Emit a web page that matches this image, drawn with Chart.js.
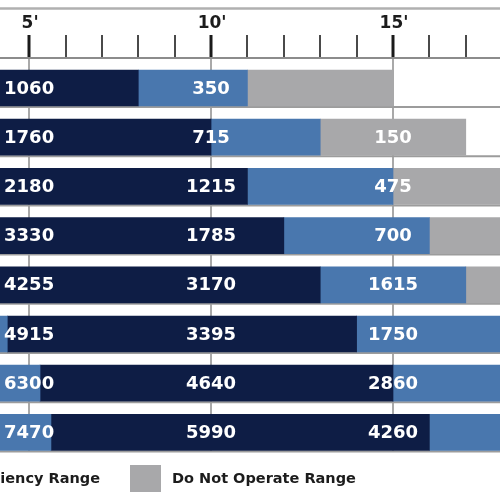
<!DOCTYPE html>
<html>
<head>
<meta charset="utf-8">
<script src="https://cdn.jsdelivr.net/npm/chart.js@4/dist/chart.umd.min.js"></script>
<style>
  html, body { margin: 0; padding: 0; background: #fff; }
  #chart { display: block; }
</style>
</head>
<body>
<canvas id="chart" width="500" height="500"></canvas>
<script>
// head height ruler (feet)
const rulerFeet = [5, 6, 7, 8, 9, 10, 11, 12, 13, 14, 15, 16, 17];
const headFeet = [5, 10, 15];
const headLabels = ["5'", "10'", "15'"];

// one row per pump
const pumps = ["Pump 1", "Pump 2", "Pump 3", "Pump 4", "Pump 5", "Pump 6", "Pump 7", "Pump 8"];

// flow (GPH) printed at 5', 10', 15'
const flowAt5 = [1060, 1760, 2180, 3330, 4255, 4915, 6300, 7470];
const flowAt10 = [350, 715, 1215, 1785, 3170, 3395, 4640, 5990];
const flowAt15 = [null, 150, 475, 700, 1615, 1750, 2860, 4260];

// range break points in feet
const leadEnd = [null, null, null, null, null, 4.4, 5.3, 5.6];
const maxEffStart = [0, 0, 0, 0, 0, 4.4, 5.3, 5.6];
const maxEffEnd = [8, 10, 11, 12, 13, 14, 15, 16];
const effEnd = [11, 13, 15, 16, 17, 20, 20, 20];
const stopEnd = [15, 17, 20, 20, 20, null, null, null];

const navy = '#0e1d45';
const blue = '#4977ae';
const grey = '#a8a8aa';

const leadRange = leadEnd.map(v => v === null ? null : [0, v]);
const maxEffRange = maxEffStart.map((s, i) => [s, maxEffEnd[i]]);
const effRange = maxEffEnd.map((s, i) => [s, effEnd[i]]);
const stopRange = stopEnd.map((v, i) => v === null ? null : [effEnd[i], v]);

const ruler = {
  id: 'ruler',
  beforeDraw(chart) {
    const ctx = chart.ctx;
    ctx.save();
    ctx.fillStyle = '#fff';
    ctx.fillRect(0, 0, chart.width, chart.height);
    ctx.restore();
  },
  beforeDatasetsDraw(chart) {
    const { ctx, scales: { x, y } } = chart;
    ctx.save();
    // vertical lines at 5', 10', 15'
    ctx.strokeStyle = '#a9a9a9';
    ctx.lineWidth = 2;
    headFeet.forEach(f => {
      const px = Math.round(x.getPixelForValue(f));
      ctx.beginPath();
      ctx.moveTo(px, 58);
      ctx.lineTo(px, 452);
      ctx.stroke();
    });
    // thin line under each bar
    ctx.strokeStyle = '#9c9c9c';
    pumps.forEach((_, i) => {
      const py = y.getPixelForValue(i) + 19;
      ctx.beginPath();
      ctx.moveTo(0, py);
      ctx.lineTo(chart.width, py);
      ctx.stroke();
    });
    ctx.restore();
  },
  afterDatasetsDraw(chart) {
    const { ctx, scales: { x, y } } = chart;
    ctx.save();
    ctx.fillStyle = '#fff';
    ctx.font = 'bold 18px "DejaVu Sans"';
    ctx.textAlign = 'center';
    ctx.textBaseline = 'middle';
    [flowAt5, flowAt10, flowAt15].forEach((vals, k) => {
      const px = x.getPixelForValue(headFeet[k]);
      vals.forEach((v, i) => {
        if (v === null) return;
        ctx.fillText(String(v), px, y.getPixelForValue(i) + 1);
      });
    });
    ctx.restore();
  },
  afterDraw(chart) {
    const { ctx, scales: { x } } = chart;
    ctx.save();
    // top border
    ctx.strokeStyle = '#b0b0b0';
    ctx.lineWidth = 2.5;
    ctx.beginPath();
    ctx.moveTo(0, 8.5);
    ctx.lineTo(chart.width, 8.5);
    ctx.stroke();
    // axis line
    ctx.strokeStyle = '#8c8c8c';
    ctx.lineWidth = 2;
    ctx.beginPath();
    ctx.moveTo(0, 58);
    ctx.lineTo(chart.width, 58);
    ctx.stroke();
    // tick marks
    rulerFeet.forEach(f => {
      const major = f % 5 === 0;
      const px = Math.round(x.getPixelForValue(f));
      ctx.strokeStyle = major ? '#1a1a1a' : '#4a4a4a';
      ctx.lineWidth = major ? 3 : 2;
      ctx.beginPath();
      ctx.moveTo(px, 35);
      ctx.lineTo(px, 57);
      ctx.stroke();
    });
    // tick labels
    ctx.fillStyle = '#1c1c1c';
    ctx.font = 'bold 17px "DejaVu Sans"';
    ctx.textAlign = 'center';
    ctx.textBaseline = 'middle';
    headFeet.forEach((f, k) => {
      ctx.fillText(headLabels[k], x.getPixelForValue(f) + 1, 24);
    });
    // legend (cut off on the left)
    ctx.font = 'bold 14.5px "DejaVu Sans"';
    ctx.textAlign = 'right';
    ctx.fillText('Efficiency Range', 100, 479);
    ctx.fillStyle = grey;
    ctx.fillRect(130, 465, 31, 27);
    ctx.fillStyle = '#1c1c1c';
    ctx.textAlign = 'left';
    ctx.fillText('Do Not Operate Range', 172, 479);
    ctx.restore();
  }
};

new Chart(document.getElementById('chart'), {
  type: 'bar',
  data: {
    labels: pumps,
    datasets: [
      { label: 'Efficiency Range', data: leadRange, backgroundColor: blue },
      { label: 'Max Efficiency Range', data: maxEffRange, backgroundColor: navy },
      { label: 'Efficiency Range', data: effRange, backgroundColor: blue },
      { label: 'Do Not Operate Range', data: stopRange, backgroundColor: grey }
    ]
  },
  options: {
    indexAxis: 'y',
    responsive: false,
    animation: false,
    grouped: false,
    barThickness: 36,
    borderSkipped: false,
    layout: { padding: { top: 63.4, bottom: 43, left: 0, right: 0 } },
    scales: {
      x: { display: false, min: 4.2, max: 17.94 },
      y: { display: false }
    },
    plugins: {
      legend: { display: false },
      tooltip: { enabled: false }
    }
  },
  plugins: [ruler]
});
</script>
</body>
</html>
